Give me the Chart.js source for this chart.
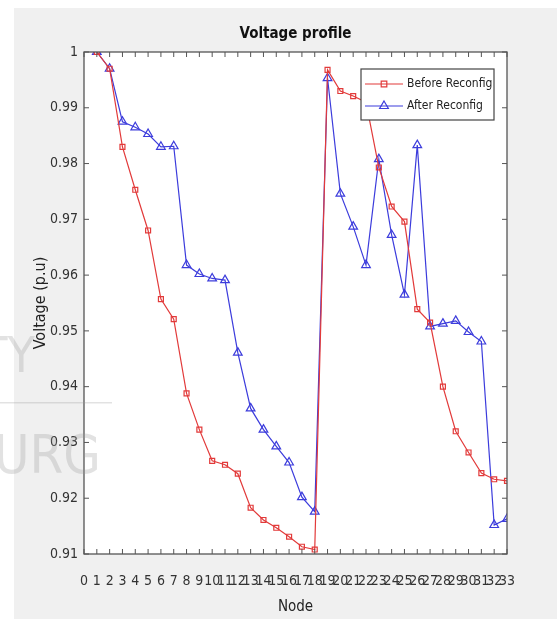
<!DOCTYPE html>
<html>
<head>
<meta charset="utf-8">
<script src="https://cdn.jsdelivr.net/npm/chart.js@4.4.0/dist/chart.umd.min.js"></script>
<style>
  html, body { margin: 0; padding: 0; background: #fff; }
  canvas { display: block; }
</style>
</head>
<body>
<canvas id="voltChart" width="557" height="619"></canvas>
<script>
const nodes = [1, 2, 3, 4, 5, 6, 7, 8, 9, 10, 11, 12, 13, 14, 15, 16, 17,
  18, 19, 20, 21, 22, 23, 24, 25, 26, 27, 28, 29, 30, 31, 32, 33]
const beforeReconfig = [1.0, 0.9970, 0.9830, 0.9753, 0.9680, 0.9557, 0.9521, 0.9388,
  0.9323, 0.9267, 0.9260, 0.9244, 0.9183, 0.9161, 0.9147, 0.9131, 0.9113, 0.9108,
  0.9968, 0.9930, 0.9921, 0.9910, 0.9793, 0.9723, 0.9696, 0.9539, 0.9515, 0.9400,
  0.9320, 0.9282, 0.9245, 0.9234, 0.9231]
const afterReconfig = [1.0, 0.9970, 0.9875, 0.9865, 0.9853, 0.9830, 0.9831, 0.9618,
  0.9602, 0.9594, 0.9591, 0.9461, 0.9361, 0.9323, 0.9293, 0.9264, 0.9202, 0.9176,
  0.9953, 0.9746, 0.9687, 0.9618, 0.9808, 0.9672, 0.9565, 0.9833, 0.9508, 0.9513,
  0.9518, 0.9498, 0.9481, 0.9152, 0.9163]
const xTickLabels = ['0', '1', '2', '3', '4', '5', '6', '7', '8', '9', '10', '11', '12',
  '13', '14', '15', '16', '17', '18', '19', '20', '21', '22', '23', '24', '25', '26',
  '27', '28', '29', '30', '31', '32', '33']
const yTickLabels = ['0.91', '0.92', '0.93', '0.94', '0.95', '0.96', '0.97', '0.98', '0.99', '1']

const fontFamily = "'Liberation Sans Narrow', 'DejaVu Sans Condensed', 'Liberation Sans', sans-serif"
const red = '#e23a3a'
const blue = '#3c3cdc'

// hollow marker, same shapes as the datasets use
const drawMarker = (ctx, style, x, y, r, color) => {
  ctx.save()
  ctx.strokeStyle = color
  ctx.lineWidth = 1.2
  ctx.beginPath()
  if (style === 'rect') {
    ctx.rect(x - r * 0.8, y - r * 0.8, r * 1.6, r * 1.6)
  } else {
    ctx.moveTo(x, y - r)
    ctx.lineTo(x + r * 0.87, y + r * 0.5)
    ctx.lineTo(x - r * 0.87, y + r * 0.5)
    ctx.closePath()
  }
  ctx.stroke()
  ctx.restore()
}

const figurePlugin = {
  id: 'figure',
  beforeDraw (chart) {
    const { ctx, chartArea: a } = chart
    ctx.save()
    ctx.fillStyle = '#f0f0f0'
    ctx.fillRect(14, 8, chart.width - 14, chart.height - 8)
    ctx.fillStyle = '#fff'
    ctx.fillRect(a.left, a.top, a.right - a.left, a.bottom - a.top)
    ctx.restore()
  },
  afterDraw (chart) {
    const { ctx, chartArea: a, scales } = chart
    ctx.save()
    // axes box
    ctx.strokeStyle = '#555'
    ctx.lineWidth = 1.3
    ctx.strokeRect(a.left, a.top, a.right - a.left, a.bottom - a.top)
    // inward ticks, all four sides
    ctx.lineWidth = 1
    ctx.beginPath()
    scales.x.ticks.forEach(t => {
      const px = scales.x.getPixelForValue(t.value)
      ctx.moveTo(px, a.bottom); ctx.lineTo(px, a.bottom - 5)
      ctx.moveTo(px, a.top); ctx.lineTo(px, a.top + 5)
    })
    scales.y.ticks.forEach(t => {
      const py = scales.y.getPixelForValue(t.value)
      ctx.moveTo(a.left, py); ctx.lineTo(a.left + 5, py)
      ctx.moveTo(a.right, py); ctx.lineTo(a.right - 5, py)
    })
    ctx.stroke()

    // legend box in the upper right corner
    const w = 133
    const h = 51
    const left = a.right - 13 - w
    const top = a.top + 17
    ctx.fillStyle = '#fff'
    ctx.fillRect(left, top, w, h)
    ctx.strokeStyle = '#444'
    ctx.lineWidth = 1.2
    ctx.strokeRect(left, top, w, h)
    chart.data.datasets.forEach((ds, i) => {
      const y = top + 15 + i * 22
      ctx.strokeStyle = ds.borderColor
      ctx.lineWidth = 1.2
      ctx.beginPath()
      ctx.moveTo(left + 4, y); ctx.lineTo(left + 42, y)
      ctx.stroke()
      drawMarker(ctx, ds.pointStyle, left + 23, y, ds.pointRadius, ds.borderColor)
      ctx.fillStyle = '#222'
      ctx.font = '12px ' + fontFamily
      ctx.textBaseline = 'middle'
      ctx.fillText(ds.label, left + 46, y)
    })

    // faint watermark lying over the figure
    ctx.fillStyle = 'rgba(150,150,150,0.28)'
    ctx.textBaseline = 'alphabetic'
    ctx.font = '50px ' + fontFamily
    ctx.fillText('TY', -20, 372)
    ctx.font = '54px ' + fontFamily
    ctx.fillText('URG', -6, 473)
    ctx.fillRect(0, 402, 112, 1.5)
    ctx.restore()
  }
}

const dataOf = values => nodes.map((n, i) => ({ x: n, y: values[i] }))

new Chart(document.getElementById('voltChart'), { // eslint-disable-line
  type: 'line',
  data: {
    datasets: [{
      label: 'Before Reconfig',
      data: dataOf(beforeReconfig),
      borderColor: red,
      backgroundColor: 'rgba(0,0,0,0)',
      borderWidth: 1.2,
      pointStyle: 'rect',
      pointRadius: 3.5,
      pointBorderWidth: 1.2,
      pointBackgroundColor: 'rgba(0,0,0,0)',
      tension: 0
    }, {
      label: 'After Reconfig',
      data: dataOf(afterReconfig),
      borderColor: blue,
      backgroundColor: 'rgba(0,0,0,0)',
      borderWidth: 1.2,
      pointStyle: 'triangle',
      pointRadius: 5,
      pointBorderWidth: 1.2,
      pointBackgroundColor: 'rgba(0,0,0,0)',
      tension: 0
    }]
  },
  options: {
    responsive: false,
    animation: false,
    layout: { padding: { left: 14, right: 50, top: 0, bottom: 3 } },
    plugins: {
      legend: { display: false },
      tooltip: { enabled: false },
      title: {
        display: true,
        fullSize: false,
        text: 'Voltage profile',
        color: '#111',
        font: { family: fontFamily, size: 15, weight: 'bold' },
        padding: { top: 25, bottom: 9 }
      }
    },
    scales: {
      x: {
        type: 'linear',
        min: 0,
        max: 33,
        afterFit: s => { s.height = 62 },
        grid: { display: false, drawTicks: false },
        border: { display: false },
        ticks: {
          stepSize: 1,
          autoSkip: false,
          maxRotation: 0,
          minRotation: 0,
          padding: 19,
          color: '#333',
          font: { family: fontFamily, size: 14 },
          callback: v => xTickLabels[v]
        },
        title: {
          display: true,
          text: 'Node',
          color: '#222',
          font: { family: fontFamily, size: 15 },
          padding: 0
        }
      },
      y: {
        min: 0.91,
        max: 1,
        afterFit: s => { s.width = 70 },
        grid: { display: false, drawTicks: false },
        border: { display: false },
        ticks: {
          stepSize: 0.01,
          padding: 6,
          color: '#333',
          font: { family: fontFamily, size: 14 },
          callback: v => yTickLabels[Math.round((v - 0.91) * 100)]
        },
        title: {
          display: true,
          text: 'Voltage (p.u)',
          color: '#222',
          font: { family: fontFamily, size: 16 },
          padding: { top: 17, bottom: 0 }
        }
      }
    }
  },
  plugins: [figurePlugin]
})
</script>
</body>
</html>
